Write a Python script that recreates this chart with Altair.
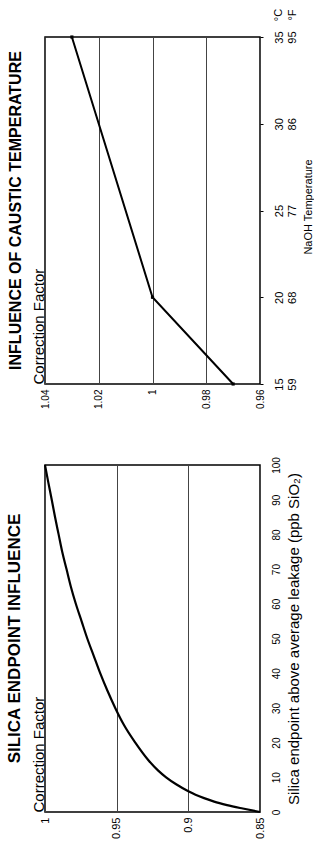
import altair as alt
import pandas as pd

FONT = "Liberation Sans"

# ---- Top chart: influence of caustic temperature ----
temp_c = [15, 20, 35]
temp_factor = [0.97, 1.00, 1.03]
temp_ticks_c = [15, 20, 25, 30, 35]
temp_ticks_f = [59, 68, 77, 86, 95]
corr_ticks_top = [0.96, 0.98, 1.0, 1.02, 1.04]
unit_labels = ["°C", "°F"]

# ---- Bottom chart: silica endpoint influence ----
silica = [0, 1, 2, 3, 4, 5, 6, 8, 10, 12, 15, 20, 25, 30, 35, 40, 45, 50,
          55, 60, 65, 70, 75, 80, 85, 90, 95, 100]
silica_factor = [0.850, 0.862, 0.873, 0.882, 0.889, 0.895, 0.900, 0.9085,
                 0.9155, 0.9212, 0.928, 0.937, 0.9448, 0.951, 0.9565, 0.9615,
                 0.966, 0.9705, 0.9745, 0.9785, 0.982, 0.985, 0.988, 0.9905,
                 0.993, 0.9953, 0.9977, 1.000]
silica_ticks = [0, 10, 20, 30, 40, 50, 60, 70, 80, 90, 100]
corr_ticks_bottom = [0.85, 0.9, 0.95, 1.0]

W, H = 215, 347

df_top = pd.DataFrame({"temp": temp_c, "factor": temp_factor})
df_bot = pd.DataFrame({"silica": silica, "factor": silica_factor})

label_expr = ""
for c, f in zip(temp_ticks_c, temp_ticks_f):
    label_expr += f"datum.value == {c} ? ['{c}', '{f}'] : "
label_expr += "datum.label"

top_x = alt.X(
    "factor:Q",
    scale=alt.Scale(domain=[0.96, 1.04], reverse=True, nice=False, zero=False),
    axis=alt.Axis(values=corr_ticks_top, format="~g", labelAngle=270,
                  labelFontSize=10, labelFont=FONT, labelColor="black",
                  labelPadding=5, ticks=False, domain=False,
                  grid=True, gridColor="#444", gridWidth=1,
                  title="Correction Factor", titleAngle=270, titleX=-2, titleY=0,
                  titleAlign="left", titleBaseline="alphabetic",
                  titleFontSize=15, titleFontWeight="normal", titleFont=FONT,
                  titleColor="black"),
)
top_y = alt.Y(
    "temp:Q",
    scale=alt.Scale(domain=[15, 35], nice=False, zero=False),
    axis=alt.Axis(orient="right", values=temp_ticks_c, labelExpr=label_expr,
                  labelAngle=270, labelAlign="center", labelBaseline="top",
                  labelFontSize=11, labelFont=FONT, labelColor="black",
                  labelLineHeight=13.5, labelPadding=10,
                  tickSize=3, tickColor="black", domain=False, grid=False,
                  title="NaOH Temperature", titleAngle=270, titleFontSize=11,
                  titleFontWeight="normal", titleFont=FONT, titleColor="black",
                  titleX=51, titleY=H / 2 - 4, titleAlign="center",
                  titleBaseline="alphabetic"),
)

top_line = alt.Chart(df_top).mark_line(color="black", strokeWidth=2).encode(x=top_x, y=top_y)
top_pts = alt.Chart(df_top).mark_point(shape="square", filled=True, color="black",
                                       size=10, opacity=1).encode(x="factor:Q", y="temp:Q")
units = alt.Chart(pd.DataFrame({"a": [0]})).mark_text(
    text=unit_labels, angle=270, align="center", baseline="top",
    fontSize=11, font=FONT, lineHeight=13.5, color="black"
).encode(x=alt.value(W + 13), y=alt.value(-22))

top = alt.layer(top_line, top_pts, units).properties(
    width=W, height=H,
    title=alt.TitleParams("INFLUENCE OF CAUSTIC TEMPERATURE", orient="left",
                          anchor="middle", fontSize=16, fontWeight="bold",
                          font=FONT, color="black", offset=7),
)

bot_x = alt.X(
    "factor:Q",
    scale=alt.Scale(domain=[0.85, 1.0], reverse=True, nice=False, zero=False),
    axis=alt.Axis(values=corr_ticks_bottom, format="~g", labelAngle=270,
                  labelFontSize=11, labelFont=FONT, labelColor="black",
                  labelPadding=5, ticks=False, domain=False,
                  grid=True, gridColor="#444", gridWidth=1,
                  title="Correction Factor", titleAngle=270, titleX=-2, titleY=0,
                  titleAlign="left", titleBaseline="alphabetic",
                  titleFontSize=15, titleFontWeight="normal", titleFont=FONT,
                  titleColor="black"),
)
bot_y = alt.Y(
    "silica:Q",
    scale=alt.Scale(domain=[0, 100], nice=False, zero=False),
    axis=alt.Axis(orient="right", values=silica_ticks,
                  labelAngle=270, labelAlign="center", labelBaseline="top",
                  labelFontSize=10, labelFont=FONT, labelColor="black",
                  labelPadding=11, ticks=False, domain=False, grid=False,
                  title="Silica endpoint above average leakage (ppb SiO₂)",
                  titleAngle=270, titleFontSize=15, titleFontWeight="normal",
                  titleFont=FONT, titleColor="black",
                  titleX=38, titleY=H / 2, titleAlign="center",
                  titleBaseline="alphabetic"),
)
bot_line = alt.Chart(df_bot).mark_line(color="black", strokeWidth=2.2,
                                       interpolate="monotone").encode(x=bot_x, y=bot_y)
bottom = alt.layer(bot_line).properties(
    width=W, height=H,
    title=alt.TitleParams("SILICA ENDPOINT INFLUENCE", orient="left",
                          anchor="middle", fontSize=17, fontWeight="bold",
                          font=FONT, color="black", offset=7),
)

chart = alt.vconcat(top, bottom, spacing=45).properties(
    padding={"left": 5, "top": 8, "right": 0, "bottom": 0},
    background="white",
).configure_view(stroke="black", strokeWidth=1.5)

chart.save("out.html", embed_options={"renderer": "svg", "actions": False})
